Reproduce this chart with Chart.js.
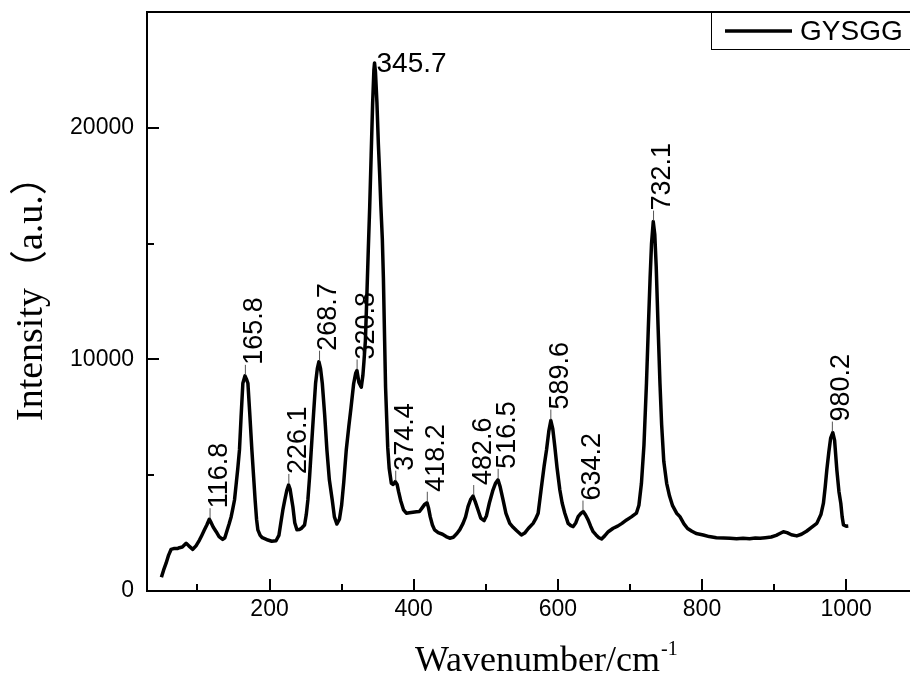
<!DOCTYPE html>
<html>
<head>
<meta charset="utf-8">
<script src="https://cdn.jsdelivr.net/npm/chart.js@4.4.1/dist/chart.umd.min.js"></script>
<style>
    html, body { margin: 0; padding: 0; background: #fff; overflow: hidden; width: 910px; height: 674px; }
    #wrap { width: 920px; height: 674px; }
</style>
</head>
<body>
<div id="wrap"><canvas id="raman" width="920" height="674"></canvas></div>
<script>
// ===================================================================
// DATA
// ===================================================================
const wavenumbers = [
    50, 53, 56.5, 60, 63.5, 68, 72, 75, 79, 84.3, 88, 93.5, 98, 102.8, 106, 109.7, 113, 116.4, 119, 122,
    126, 130, 135, 138, 141, 144, 146.8, 149, 151.4, 154, 156, 158.3, 160.5, 163, 166, 168, 170, 172.5, 175.5, 178,
    180, 182, 183.8, 187, 190, 194, 197.7, 203, 209, 213, 215.5, 218.5, 221, 224, 226.4, 228.5, 230.5, 232.4, 235, 238,
    241, 244, 248.6, 251, 253.2, 255.5, 257.9, 261, 263.9, 266.3, 268.5, 270.8, 273.2, 276.5, 279.6, 283, 287, 290, 293.5, 297,
    300, 303, 306.5, 310, 313, 316.7, 319.5, 321.3, 324, 327.3, 329.5, 331, 333, 335, 337, 339, 341, 343, 344.8, 345.7,
    347, 349, 351, 352.8, 354.5, 356.5, 358, 359.7, 361, 362.5, 364, 366, 369, 371.5, 374.5, 377, 379, 382, 386, 389.8,
    394, 399, 404, 408, 412, 415.5, 418.5, 420.5, 423, 426, 429, 434, 440, 445, 450, 455, 460, 464, 468.5, 472,
    475.4, 479, 482.4, 485.5, 489.3, 493, 497.7, 501, 505, 510, 513.5, 517, 520, 524, 528, 533.3, 538, 543, 549.5, 554,
    559, 565.7, 569, 572.7, 577.3, 581, 584.3, 587.5, 590.3, 593, 595.8, 599, 602.8, 606, 609.7, 614.3, 618, 621.3, 625, 628.2,
    632, 635.2, 638.5, 642, 645.5, 649, 653, 657, 660.7, 665, 670, 676.8, 683, 689, 695.4, 702, 709, 712.5, 716, 719.5,
    723, 725.5, 728, 730, 732.4, 734.5, 736.5, 739, 741.7, 744, 747, 751, 755, 759, 764.8, 769.4, 775, 780, 786, 792,
    801.8, 810, 820, 830, 838.9, 848, 857, 866, 874, 880.6, 888, 896, 903, 908, 912.9, 918, 924, 931.5, 938, 945,
    952, 959.3, 965, 968.5, 971, 973.2, 976, 978.5, 981.5, 984, 987.1, 990, 992.6, 994.5, 996.3, 1000, 1003
];
const intensities = [
    590, 900, 1200, 1550, 1800, 1840, 1830, 1870, 1900, 2060, 1950, 1800, 1950, 2200, 2400, 2640, 2850, 3100, 2950, 2750,
    2560, 2350, 2230, 2300, 2600, 2900, 3210, 3550, 3930, 4700, 5300, 6090, 7500, 8970, 9290, 9150, 8970, 7700, 6090, 4900,
    3930, 3100, 2640, 2400, 2300, 2250, 2200, 2150, 2170, 2400, 2900, 3500, 3900, 4350, 4580, 4400, 4000, 3640, 2950, 2640,
    2650, 2700, 2850, 3300, 3930, 4900, 6090, 7600, 8970, 9600, 9900, 9600, 8970, 7600, 6090, 4800, 3930, 3200, 2890, 3100,
    3700, 4700, 6100, 7100, 7900, 8950, 9400, 9520, 9000, 8800, 9300, 9900, 10800, 12700, 14700, 16600, 18800, 21000, 22500, 22800,
    22400, 21100, 19300, 18000, 16600, 15200, 13500, 10800, 8800, 7500, 6200, 5300, 4650, 4600, 4720, 4600, 4300, 3900, 3500, 3360,
    3380, 3400, 3420, 3430, 3600, 3750, 3810, 3600, 3200, 2850, 2640, 2520, 2450, 2350, 2280, 2320, 2480, 2650, 2920, 3200,
    3640, 3950, 4100, 3850, 3500, 3150, 3040, 3250, 3800, 4360, 4650, 4800, 4500, 3930, 3350, 2920, 2750, 2600, 2420, 2500,
    2700, 2920, 3100, 3360, 4500, 5400, 6090, 6900, 7360, 7000, 6240, 5300, 4360, 3800, 3360, 2920, 2820, 2780, 2950, 3210,
    3350, 3430, 3280, 3070, 2800, 2560, 2420, 2300, 2250, 2380, 2560, 2710, 2800, 2920, 3070, 3200, 3360, 3700, 4650, 6300,
    8990, 11300, 13500, 15000, 15950, 15400, 14000, 11500, 8970, 7200, 5600, 4650, 4100, 3700, 3360, 3210, 2900, 2700, 2580, 2480,
    2420, 2350, 2300, 2290, 2275, 2260, 2280, 2260, 2290, 2275, 2300, 2330, 2400, 2480, 2560, 2520, 2430, 2380, 2450, 2580,
    2750, 2920, 3300, 3790, 4500, 5230, 6000, 6600, 6840, 6500, 5230, 4300, 3790, 3200, 2850, 2800, 2810
];

const peakPositions = [116.8, 165.8, 226.1, 268.7, 320.8, 345.7, 374.4, 418.2, 482.6, 516.5, 589.6, 634.2, 732.1, 980.2];
const peakHeights   = [3100, 9290, 4580, 9900, 9520, 22800, 4720, 3810, 4100, 4800, 7360, 3430, 15950, 6840];
const flatPeakLabels = [345.7]; // this one is written horizontally in the reference

const xMajorTicks = [200, 400, 600, 800, 1000];
const xMinorTicks = [100, 300, 500, 700, 900];
const yMajorTicks = [0, 10000, 20000];
const yMinorTicks = [5000, 15000];

const seriesName = 'GYSGG';
const xTitle = 'Wavenumber/cm';
const xTitleSup = '-1';
const yTitle = 'Intensity（a.u.）';

// ===================================================================
// DRAWING HELPERS
// ===================================================================
const SANS = '"Liberation Sans", Arial, sans-serif';
const SERIF = '"Liberation Serif", "Noto Sans CJK SC", serif';

const decorPlugin = {
    id: 'decor',
    afterDatasetsDraw(chart) {
        const { ctx, chartArea: a, scales: { x, y } } = chart;
        ctx.save();

        // top frame line
        ctx.strokeStyle = '#000';
        ctx.lineWidth = 2;
        ctx.beginPath();
        ctx.moveTo(a.left - 1, a.top);
        ctx.lineTo(a.right, a.top);
        ctx.stroke();

        // inward ticks
        const xTick = (v, len) => {
            const px = Math.round(x.getPixelForValue(v));
            ctx.beginPath(); ctx.moveTo(px, a.bottom); ctx.lineTo(px, a.bottom - len); ctx.stroke();
        };
        const yTick = (v, len) => {
            const py = Math.round(y.getPixelForValue(v));
            ctx.beginPath(); ctx.moveTo(a.left, py); ctx.lineTo(a.left + len, py); ctx.stroke();
        };
        xMajorTicks.forEach(v => xTick(v, 12));
        xMinorTicks.forEach(v => xTick(v, 7));
        yMajorTicks.forEach(v => yTick(v, 12));
        yMinorTicks.forEach(v => yTick(v, 7));

        // peak labels
        const fs = 27;
        const cap = fs * 0.716;
        ctx.fillStyle = '#000';
        peakPositions.forEach((pos, i) => {
            const px = x.getPixelForValue(pos);
            const py = y.getPixelForValue(peakHeights[i]);
            const label = pos.toFixed(1);
            if (flatPeakLabels.includes(pos)) {
                ctx.font = `28px ${SANS}`;
                ctx.textAlign = 'left';
                ctx.textBaseline = 'middle';
                ctx.fillText(label, px + 2, py + 1);
                return;
            }
            ctx.strokeStyle = '#555';
            ctx.lineWidth = 1;
            ctx.beginPath();
            ctx.moveTo(px + 0.5, py - 1);
            ctx.lineTo(px + 0.5, py - 11);
            ctx.stroke();
            ctx.save();
            ctx.translate(px - 2 + cap, py - 11);
            ctx.rotate(-Math.PI / 2);
            ctx.font = `${fs}px ${SANS}`;
            ctx.textAlign = 'left';
            ctx.textBaseline = 'alphabetic';
            ctx.fillText(label, 0, 0);
            ctx.restore();
        });

        // legend box (top right, clipped by the picture edge)
        const lx = a.right - 200, ly = a.top;
        ctx.fillStyle = '#fff';
        ctx.fillRect(lx, ly, 230, 38);
        ctx.strokeStyle = '#000';
        ctx.lineWidth = 1;
        ctx.strokeRect(lx + 0.5, ly + 0.5, 230, 37);
        ctx.lineWidth = 3.5;
        ctx.beginPath();
        ctx.moveTo(lx + 14, ly + 19);
        ctx.lineTo(lx + 81, ly + 19);
        ctx.stroke();
        ctx.fillStyle = '#000';
        ctx.font = `28px ${SANS}`;
        ctx.textAlign = 'left';
        ctx.textBaseline = 'middle';
        ctx.fillText(seriesName, lx + 89, ly + 20);

        // axis titles
        ctx.save();
        ctx.translate(42, 421);
        ctx.rotate(-Math.PI / 2);
        ctx.font = `38px ${SERIF}`;
        ctx.textAlign = 'left';
        ctx.textBaseline = 'alphabetic';
        ctx.fillText(yTitle, 0, 0);
        ctx.restore();

        ctx.font = `36px ${SERIF}`;
        ctx.textAlign = 'left';
        ctx.textBaseline = 'alphabetic';
        const tx = 415, ty = 671;
        ctx.fillText(xTitle, tx, ty);
        const w = ctx.measureText(xTitle).width;
        ctx.font = `20px ${SERIF}`;
        ctx.fillText(xTitleSup, tx + w + 1, ty - 16);

        ctx.restore();
    }
};

// ===================================================================
// CHART
// ===================================================================
const points = wavenumbers.map((wn, i) => ({ x: wn, y: intensities[i] }));
const plainLabel = v => String(v);

new Chart(document.getElementById('raman'), {
    type: 'line',
    data: {
        datasets: [{
            label: seriesName,
            data: points,
            borderColor: '#000',
            borderWidth: 3.5,
            borderJoinStyle: 'round',
            pointRadius: 0,
            fill: false,
            tension: 0
        }]
    },
    options: {
        responsive: false,
        animation: false,
        layout: { padding: { top: 12, right: 9, bottom: 0, left: 0 } },
        plugins: { legend: { display: false }, tooltip: { enabled: false } },
        scales: {
            x: {
                type: 'linear',
                min: 30,
                max: 1090,
                grid: { display: false, drawTicks: false },
                border: { display: true, color: '#000', width: 2 },
                afterBuildTicks: s => { s.ticks = xMajorTicks.map(v => ({ value: v })); },
                afterFit: s => { s.height = 83; s.paddingLeft = 0; s.paddingRight = 0; },
                ticks: { color: '#000', font: { family: SANS, size: 23 }, padding: 5, maxRotation: 0, autoSkip: false, callback: plainLabel }
            },
            y: {
                type: 'linear',
                min: 0,
                max: 25000,
                grid: { display: false, drawTicks: false },
                border: { display: true, color: '#000', width: 2 },
                afterBuildTicks: s => { s.ticks = yMajorTicks.map(v => ({ value: v })); },
                afterFit: s => { s.width = 147; s.paddingTop = 0; s.paddingBottom = 0; },
                ticks: { color: '#000', font: { family: SANS, size: 23 }, padding: 13, callback: plainLabel }
            }
        }
    },
    plugins: [decorPlugin]
});
</script>
</body>
</html>
